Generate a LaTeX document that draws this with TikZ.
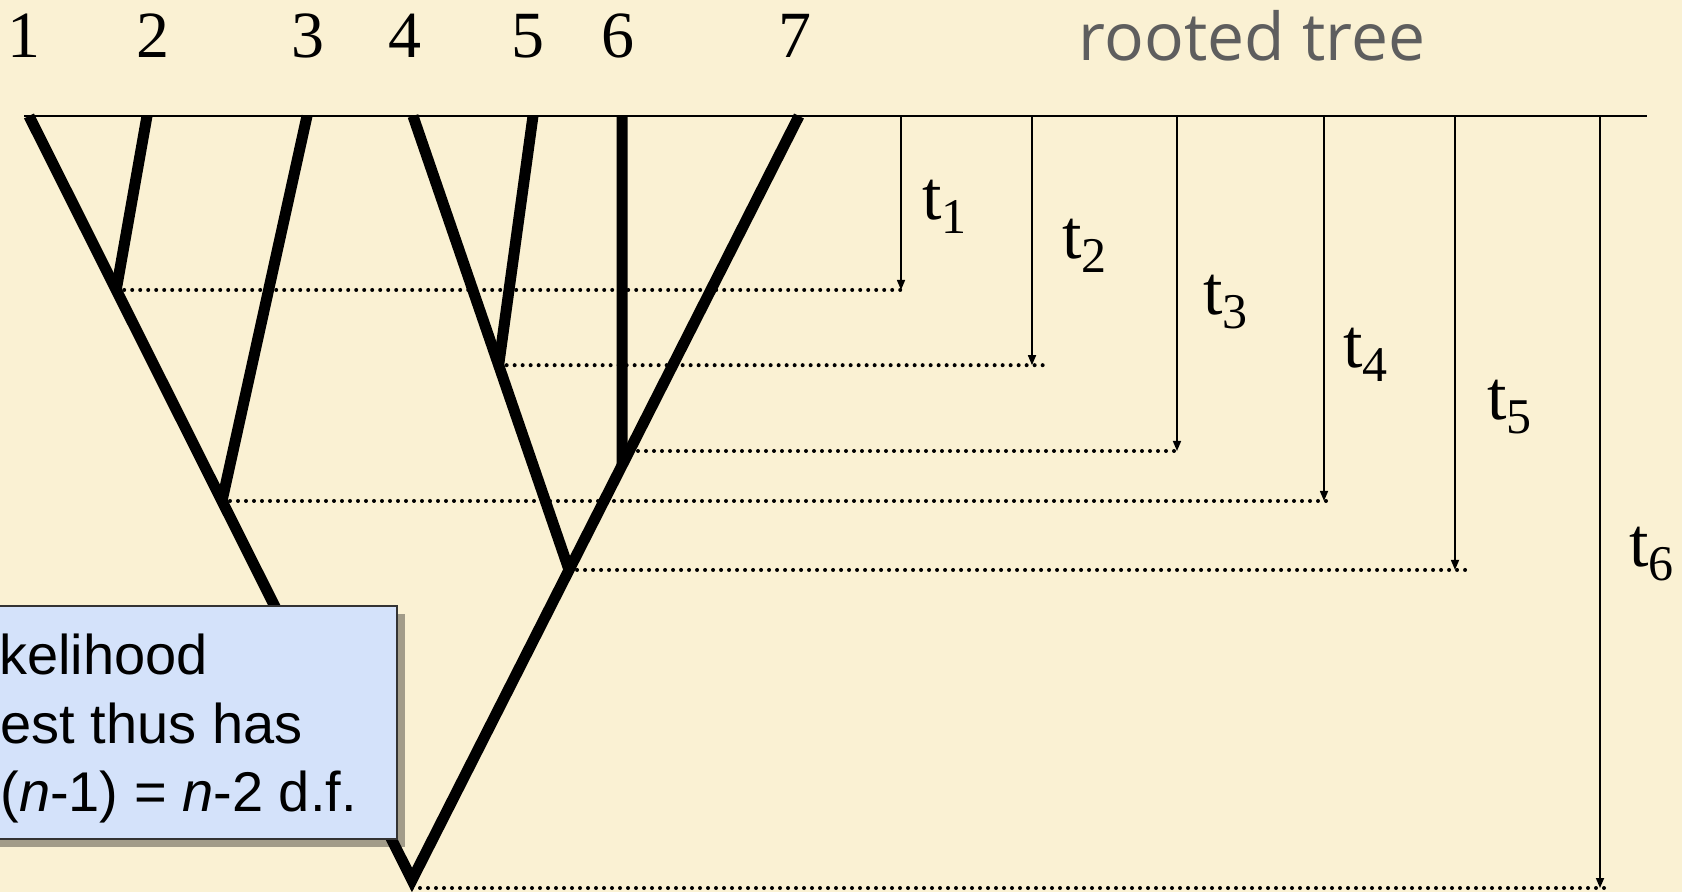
\documentclass[tikz,border=0pt]{standalone}
\usepackage{fontspec}
\setmainfont{Liberation Serif}
\setsansfont{Liberation Sans}
\newfontfamily\titlefont{Open Sans}
\usetikzlibrary{arrows.meta,shadows,calc}
\definecolor{bg}{HTML}{FAF1D3}
\definecolor{boxblue}{HTML}{D4E2FA}
\definecolor{titlegray}{HTML}{5E5E5E}
\newcommand{\tsub}[1]{t\raisebox{-7pt}{\fontsize{25}{25}\selectfont #1}}
\begin{document}
\begin{tikzpicture}[x=0.5pt,y=-0.5pt,
  branch/.style={line width=5.5pt, line join=miter, miter limit=10},
  guide/.style={line width=2pt, dash pattern=on 0pt off 4pt, line cap=round},
  timearrow/.style={line width=0.8pt, -{Triangle[length=5pt,width=4pt]}},
  leaflabel/.style={font=\fontsize{33}{40}\selectfont, anchor=base, inner sep=0pt},
  tlabel/.style={font=\fontsize{35}{40}\selectfont, anchor=base west, inner sep=0pt},
  calltext/.style={font=\sffamily\fontsize{28}{34}\selectfont, anchor=base west, inner sep=0pt},
  callout/.style={draw=black!80, line width=0.8pt, fill=boxblue, inner sep=0pt,
    drop shadow={shadow xshift=4pt, shadow yshift=-4pt, opacity=0.35, fill=black}},
]
\fill[bg] (0,0) rectangle (1682,892);
\useasboundingbox (0,0) rectangle (1682,892);

% leaf labels
\node[leaflabel] (n1) at (24,58) {1};
\node[leaflabel] (n2) at (153,58) {2};
\node[leaflabel] (n3) at (308,58) {3};
\node[leaflabel] (n4) at (405,58) {4};
\node[leaflabel] (n5) at (528,58) {5};
\node[leaflabel] (n6) at (618,58) {6};
\node[leaflabel] (n7) at (795,58) {7};

\node[font=\titlefont\fontsize{33}{38}\selectfont, text=titlegray, anchor=base, inner sep=0pt] (title) at (1252,61) {rooted tree};

% top line
\coordinate (topL) at (24,116);
\coordinate (topR) at (1647,116);
\draw[line width=0.9pt] (topL) -- (topR);

% tree coordinates
\coordinate (l1) at (29,116);
\coordinate (l2) at (147,116);
\coordinate (l3) at (307,116);
\coordinate (l4) at (413,116);
\coordinate (l5) at (533,116);
\coordinate (l6) at (622,116);
\coordinate (l7) at (799,116);
\coordinate (root) at (412,880);
\coordinate (A) at ($(l1)!0.2277!(root)$);
\coordinate (C) at ($(l1)!0.5039!(root)$);
\coordinate (D) at ($(l7)!0.4568!(root)$);
\coordinate (E) at ($(l7)!0.5942!(root)$);
\coordinate (B) at ($(l4)!0.5489!(E)$);
\coordinate (Dtop) at (630,451);

% dotted guides
\coordinate (g1) at (905,290);
\coordinate (g2) at (1046,363);
\coordinate (g3) at (1181,451);
\coordinate (g4) at (1327,501);
\coordinate (g5) at (1468,570);
\coordinate (g6) at (1604,888);
\draw[guide] (A) -- (A -| g1);
\draw[guide] (B) -- (B -| g2);
\draw[guide] (Dtop) -- (g3);
\draw[guide] (C) -- (C -| g4);
\draw[guide] (E) -- (E -| g5);
\draw[guide] (root |- g6) -- (g6);

% branches
\draw[branch] (l1) -- (root) -- (l7);
\draw[branch] (l2) -- (A);
\draw[branch] (l3) -- (C);
\draw[branch] (l4) -- (E);
\draw[branch] (l5) -- (B);
\draw[branch] (l6) -- (D);

% time arrows
\coordinate (a1) at (901,116);
\coordinate (a2) at (1032,116);
\coordinate (a3) at (1177,116);
\coordinate (a4) at (1324,116);
\coordinate (a5) at (1455,116);
\coordinate (a6) at (1600,116);
\draw[timearrow] (a1) -- (a1 |- A);
\draw[timearrow] (a2) -- (a2 |- B);
\draw[timearrow] (a3) -- (a3 |- Dtop);
\draw[timearrow] (a4) -- (a4 |- C);
\draw[timearrow] (a5) -- (a5 |- E);
\draw[timearrow] (a6) -- (a6 |- g6);

\node[tlabel] (t1) at (922,220) {\tsub{1}};
\node[tlabel] (t2) at (1062,259) {\tsub{2}};
\node[tlabel] (t3) at (1203,315) {\tsub{3}};
\node[tlabel] (t4) at (1343,368) {\tsub{4}};
\node[tlabel] (t5) at (1487,420) {\tsub{5}};
\node[tlabel] (t6) at (1629,567) {\tsub{6}};

% callout
\node[callout, anchor=north east, minimum width=204pt, minimum height=116.5pt] (box) at (398,605) {};
\node[calltext] (c1) at (-1,675) {kelihood};
\node[calltext] (c2) at (0,743) {est thus has};
\node[calltext] (c3) at (0,812) {(\textit{n}-1) = \textit{n}-2 d.f.};
\end{tikzpicture}
\end{document}
